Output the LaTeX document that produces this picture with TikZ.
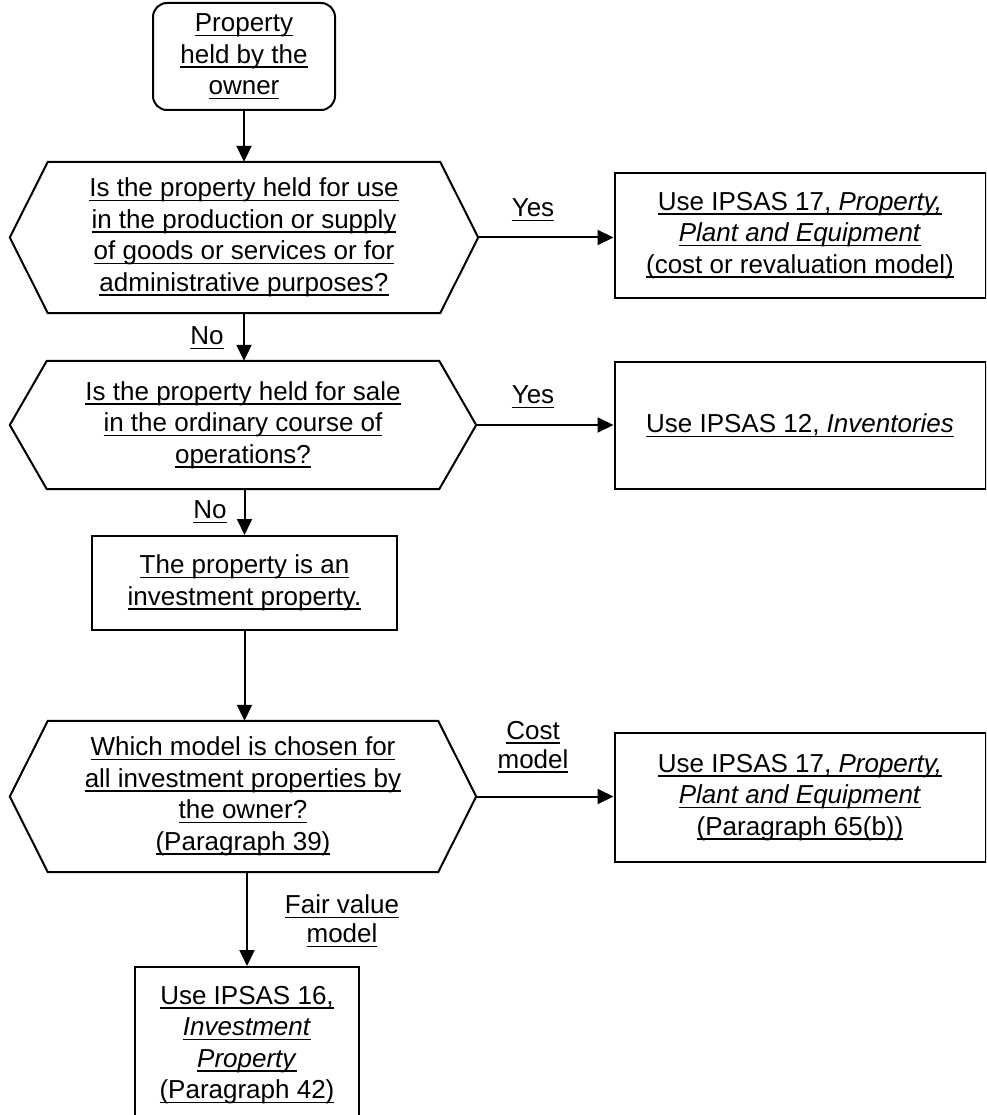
\documentclass[tikz,border=0pt]{standalone}
\usepackage{fontspec}
\setmainfont{Liberation Sans}
\newcommand\ulx[1]{\leavevmode\setbox0\hbox{#1}\rlap{\vrule height -3.0pt depth 4.5pt width \wd0}\box0}
\usetikzlibrary{arrows.meta}
\begin{document}
\begin{tikzpicture}[x=1pt,y=-1pt,
  box/.style={draw, line width=2pt, inner sep=0pt, align=center,
    font=\fontsize{26}{31.5}\selectfont},
  plain/.style={inner sep=0pt, align=center, font=\fontsize{26}{31.5}\selectfont},
  lbl/.style={inner sep=0pt, align=center, font=\fontsize{26}{29}\selectfont},
  arr/.style={line width=2pt, -{Triangle[length=16pt,width=15pt]}},
  hexline/.style={line width=2pt, line join=miter}]
\useasboundingbox (0,0) rectangle (986,1115);
\fill[white] (0,0) rectangle (986,1115);
\clip (0,0) rectangle (986,1115);

\node[box, rounded corners=14pt, minimum width=182pt, minimum height=107pt] (start) at (244,56.5)
  {\ulx{Property}\\\ulx{held by the}\\\ulx{owner}};

\node[plain, minimum width=468pt, minimum height=151pt] (h1) at (244,237.5)
  {\ulx{Is the property held for use}\\\ulx{in the production or supply}\\\ulx{of goods or services or for}\\\ulx{administrative purposes?}};

\node[box, minimum width=371pt, minimum height=125pt] (b1) at (800,235.5)
  {\ulx{Use IPSAS 17, \textit{Property,}}\\\ulx{\textit{Plant and Equipment}}\\\ulx{(cost or revaluation model)}};

\node[plain, minimum width=466pt, minimum height=128pt] (h2) at (243,425)
  {\ulx{Is the property held for sale}\\\ulx{in the ordinary course of}\\\ulx{operations?}};

\node[box, minimum width=371pt, minimum height=127pt] (b2) at (800,425.5)
  {\ulx{Use IPSAS 12, \textit{Inventories}}};

\node[box, minimum width=305pt, minimum height=94pt] (inv) at (244.5,583)
  {\ulx{The property is an}\\\ulx{investment property.}};

\node[plain, minimum width=466pt, minimum height=151pt] (h3) at (243,796.5)
  {\ulx{Which model is chosen for}\\\ulx{all investment properties by}\\\ulx{the owner?}\\\ulx{(Paragraph 39)}};

\node[box, minimum width=371pt, minimum height=129pt] (b3) at (800,797.5)
  {\ulx{Use IPSAS 17, \textit{Property,}}\\\ulx{\textit{Plant and Equipment}}\\\ulx{(Paragraph 65(b))}};

\node[box, minimum width=224pt, minimum height=156pt] (b4) at (247,1045)
  {\ulx{Use IPSAS 16,}\\\ulx{\textit{Investment}}\\\ulx{\textit{Property}}\\\ulx{(Paragraph 42)}};

\foreach \n/\d in {h1/38,h2/37,h3/38}{
  \draw[hexline] (\n.west) -- ([xshift=\d pt]\n.north west) -- ([xshift=-\d pt]\n.north east)
    -- (\n.east) -- ([xshift=-\d pt]\n.south east) -- ([xshift=\d pt]\n.south west) -- cycle;
}

\node[lbl] (yes1) at (533,210) {\ulx{Yes}};
\node[lbl] (yes2) at (533,397) {\ulx{Yes}};
\node[lbl] (no1) at (207,338) {\ulx{No}};
\node[lbl] (no2) at (210,512) {\ulx{No}};
\node[lbl] (cost) at (533,747) {\ulx{Cost}\\\ulx{model}};
\node[lbl] (fair) at (342,921) {\ulx{Fair value}\\\ulx{model}};

\draw[arr] (start.south) -- (h1.north -| start.south);
\draw[arr] (h1.south -| start.south) -- (h2.north -| start.south);
\draw[arr] (h1.east) -- (b1.west |- h1.east);
\draw[arr] (h2.east) -- (b2.west |- h2.east);
\draw[arr] (h2.south -| inv.north) -- (inv.north);
\draw[arr] (inv.south) -- (h3.north -| inv.south);
\draw[arr] (h3.east) -- (b3.west |- h3.east);
\draw[arr] (h3.south -| b4.north) -- (b4.north);
\end{tikzpicture}
\end{document}
